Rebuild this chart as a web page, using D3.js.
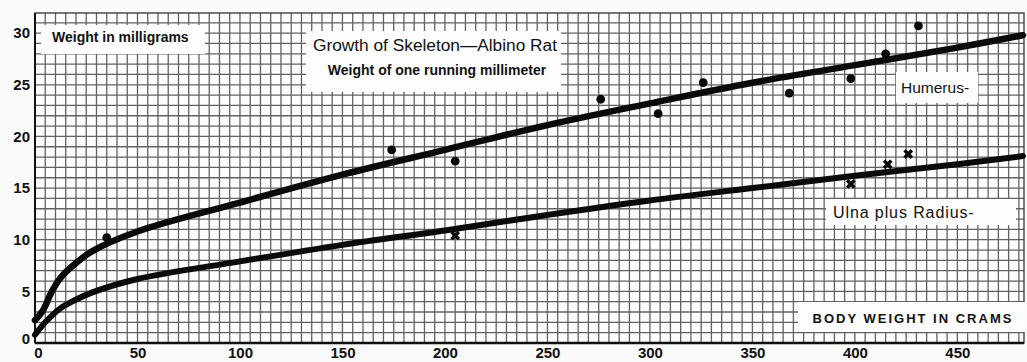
<!DOCTYPE html>
<html>
<head>
<meta charset="utf-8">
<script src="https://cdn.jsdelivr.net/npm/d3@7"></script>
<style>
  html, body { margin: 0; padding: 0; background: #fafafa; }
  svg { display: block; }
</style>
</head>
<body>
<svg id="chart" width="1027" height="362"></svg>
<script>
// Body weight (grams) along the smoothed growth curves
const curveBodyWeight = [0, 4, 8, 12, 18, 28, 50, 100, 150, 200, 250, 300, 350, 400, 450, 482];
// Smoothed weight of one running millimeter (mg)
const humerusCurve = [2.2, 3.2, 4.9, 6.2, 7.4, 8.9, 10.8, 13.6, 16.3, 18.7, 21.1, 23.2, 25.2, 26.9, 28.6, 29.8];
const ulnaCurve    = [0.8, 1.8, 2.6, 3.3, 4.0, 4.9, 6.2, 7.9, 9.5, 10.9, 12.4, 13.8, 15.0, 16.2, 17.3, 18.1];

// Observed humerus values (dots)
const humerusObsX = [35, 174, 205, 276, 304, 326, 368, 398, 415, 431];
const humerusObsY = [10.2, 18.7, 17.6, 23.6, 22.2, 25.2, 24.2, 25.6, 28.0, 30.7];
// Observed ulna plus radius values (crosses)
const ulnaObsX = [205, 398, 416, 426];
const ulnaObsY = [10.4, 15.4, 17.3, 18.3];

const xTicks = [0, 50, 100, 150, 200, 250, 300, 350, 400, 450];
const yTicks = [0, 5, 10, 15, 20, 25, 30];

const svg = d3.select("#chart");
const plotLeft = 35, plotRight = 1024, plotTop = 13, plotBottom = 343;

const x = d3.scaleLinear().domain([0, 482.5]).range([plotLeft, plotRight]);
const y = d3.scaleLinear().domain([0, 31.95]).range([plotBottom, plotTop]);

// Plot background
svg.append("rect").attr("x", plotLeft).attr("y", plotTop)
  .attr("width", plotRight - plotLeft).attr("height", plotBottom - plotTop)
  .attr("fill", "#fdfdfd");

// Cross-ruled paper: vertical rules every 5 g, horizontal every 1 mg
const grid = svg.append("g").attr("stroke", "#626262").attr("stroke-width", 1.3);
grid.selectAll("line.v").data(d3.range(5, 482, 5)).join("line")
  .attr("x1", d => x(d)).attr("x2", d => x(d))
  .attr("y1", plotTop).attr("y2", plotBottom);
grid.selectAll("line.h").data(d3.range(1, 32, 1)).join("line")
  .attr("x1", plotLeft).attr("x2", plotRight)
  .attr("y1", d => y(d)).attr("y2", d => y(d));

// Frame
svg.append("rect").attr("x", plotLeft).attr("y", plotTop)
  .attr("width", plotRight - plotLeft).attr("height", plotBottom - plotTop)
  .attr("fill", "none").attr("stroke", "#333").attr("stroke-width", 1.3);
svg.append("line").attr("x1", plotLeft).attr("x2", plotRight)
  .attr("y1", plotBottom).attr("y2", plotBottom)
  .attr("stroke", "#111").attr("stroke-width", 2.5);
svg.append("line").attr("x1", plotLeft).attr("x2", plotLeft)
  .attr("y1", plotTop).attr("y2", plotBottom)
  .attr("stroke", "#111").attr("stroke-width", 2);

// Axes (labels only, the frame carries the lines)
const xAxis = d3.axisBottom(x).tickValues(xTicks).tickSize(0).tickPadding(4);
const gx = svg.append("g").attr("transform", `translate(0,${plotBottom})`).call(xAxis);
gx.select(".domain").remove();
gx.selectAll("text").attr("font-family", "Liberation Sans Narrow, Liberation Sans, sans-serif")
  .attr("font-size", 15).attr("font-weight", "bold").attr("fill", "#111")
  .attr("dx", d => d === 0 ? 3 : 0);

const yAxis = d3.axisLeft(y).tickValues(yTicks).tickSize(0).tickPadding(5);
const gy = svg.append("g").attr("transform", `translate(${plotLeft},0)`).call(yAxis);
gy.select(".domain").remove();
gy.selectAll("text").attr("font-family", "Liberation Sans Narrow, Liberation Sans, sans-serif")
  .attr("font-size", 15).attr("font-weight", "bold").attr("fill", "#111")
  .attr("dy", d => d === 0 ? "0" : "0.32em");

// Label panels with white fill, drawn under the curves
function labelBox(bx, by, bw, bh) {
  svg.append("rect").attr("x", bx).attr("y", by).attr("width", bw).attr("height", bh)
    .attr("fill", "#fdfdfd");
}
function label(text, tx, ty, size, weight, anchor, spacing) {
  svg.append("text").attr("x", tx).attr("y", ty)
    .attr("font-family", "Liberation Sans, Arial, sans-serif")
    .attr("font-size", size).attr("font-weight", weight)
    .attr("text-anchor", anchor || "start")
    .attr("letter-spacing", spacing || 0)
    .attr("fill", "#111").text(text);
}

labelBox(41, 25, 164, 29);
label("Weight in milligrams", 52, 42, 14, "bold");

labelBox(306, 31, 255, 61);
label("Growth of Skeleton\u2014Albino Rat", 435, 51, 17.3, "normal", "middle");
label("Weight of one running millimeter", 437, 75, 14, "bold", "middle");

labelBox(896, 72, 82, 31);
label("Humerus-", 901, 93, 15.5, "normal");

labelBox(826, 199, 190, 26);
label("Ulna plus Radius-", 833, 218, 16, "normal", "start", 0.9);

labelBox(798, 302, 227, 30);
label("BODY WEIGHT IN CRAMS", 913, 323, 13, "bold", "middle", 2);

// Curves
const line = d3.line().curve(d3.curveCatmullRom.alpha(0.5))
  .x(d => x(d[0])).y(d => y(d[1]));
const humerusPts = curveBodyWeight.map((w, i) => [w, humerusCurve[i]]);
const ulnaPts = curveBodyWeight.map((w, i) => [w, ulnaCurve[i]]);

svg.append("path").datum(humerusPts).attr("d", line)
  .attr("fill", "none").attr("stroke", "#0a0a0a").attr("stroke-width", 6.5)
  .attr("stroke-linecap", "round");
svg.append("path").datum(ulnaPts).attr("d", line)
  .attr("fill", "none").attr("stroke", "#0a0a0a").attr("stroke-width", 6)
  .attr("stroke-linecap", "round");

// Observations
svg.append("g").selectAll("circle").data(humerusObsX).join("circle")
  .attr("cx", d => x(d)).attr("cy", (d, i) => y(humerusObsY[i]))
  .attr("r", 4.4).attr("fill", "#0a0a0a");
svg.append("g").selectAll("path").data(ulnaObsX).join("path")
  .attr("transform", (d, i) => `translate(${x(d)},${y(ulnaObsY[i])}) rotate(45)`)
  .attr("d", d3.symbol().type(d3.symbolCross).size(60))
  .attr("fill", "#0a0a0a");
</script>
</body>
</html>
